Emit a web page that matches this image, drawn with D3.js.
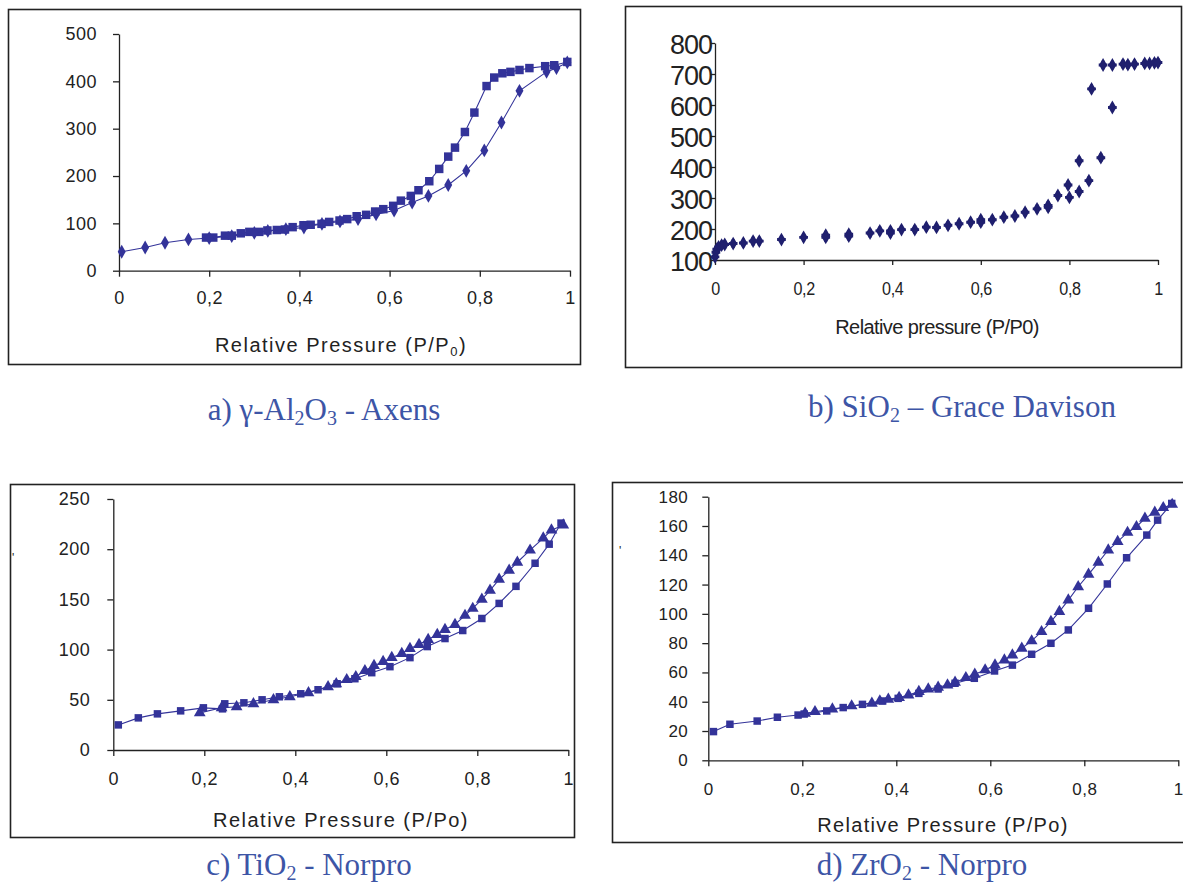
<!DOCTYPE html>
<html><head><meta charset="utf-8">
<script src="https://cdn.jsdelivr.net/npm/d3@7"></script>
<style>
html,body{margin:0;padding:0;background:#fff;}
svg{display:block;}
.tick text{font-family:"Liberation Sans",Arial,sans-serif;fill:#222;}
</style></head>
<body>
<svg id="c" width="1183" height="886"></svg>
<script>
// ---------- DATA ----------
const xTicks = [0, 0.2, 0.4, 0.6, 0.8, 1];
const xTickLabels = ["0", "0,2", "0,4", "0,6", "0,8", "1"];

// a) gamma-Al2O3 - Axens
const aYTicks = [0, 100, 200, 300, 400, 500];
const aAdsorption = [[0.006,40],[0.058,49],[0.102,59],[0.154,66],[0.2,69],[0.25,73],[0.3,80],[0.33,84],[0.37,88],[0.41,91],[0.45,99],[0.49,104],[0.53,109],[0.57,119],[0.61,127],[0.65,144],[0.686,158],[0.73,181],[0.77,211],[0.81,254],[0.848,313],[0.888,380],[0.948,420],[0.97,428],[0.994,440]];
const aDesorption = [[0.994,441],[0.965,434],[0.945,432],[0.91,428],[0.888,424],[0.868,420],[0.85,417],[0.832,408],[0.815,390],[0.788,334],[0.767,293],[0.745,260],[0.73,241],[0.71,215],[0.688,189],[0.664,170],[0.647,158],[0.625,148],[0.608,137],[0.586,130],[0.568,125],[0.548,118],[0.527,115],[0.506,109],[0.489,106],[0.466,103],[0.449,99],[0.425,97],[0.409,96],[0.385,92],[0.368,87],[0.35,86],[0.329,85],[0.311,82],[0.289,82],[0.27,79],[0.25,74],[0.235,74],[0.209,70],[0.193,70]];

// b) SiO2 - Grace Davison
const bYTicks = [100, 200, 300, 400, 500, 600, 700, 800];
const bPoints = [[0,110],[0.002,125],[0.004,135],[0.008,142],[0.015,148],[0.022,150],[0.041,153],[0.064,155],[0.086,161],[0.1,161],[0.15,166],[0.2,173],[0.25,180],[0.25,173],[0.302,183],[0.302,177],[0.35,187],[0.372,194],[0.396,194],[0.396,187],[0.421,198],[0.451,198],[0.477,206],[0.5,205],[0.526,212],[0.551,217],[0.577,222],[0.6,230],[0.6,222],[0.626,230],[0.652,238],[0.677,242],[0.7,254],[0.727,265],[0.752,276],[0.752,270],[0.774,308],[0.797,342],[0.8,302],[0.822,420],[0.822,321],[0.844,356],[0.85,652],[0.871,430],[0.876,729],[0.897,592],[0.897,729],[0.921,732],[0.932,730],[0.947,732],[0.97,734],[0.981,734],[0.992,736],[1.0,737]];

// c) TiO2 - Norpro
const cYTicks = [0, 50, 100, 150, 200, 250];
const cAdsorption = [[0.011,25],[0.055,32],[0.097,36],[0.148,39],[0.198,42],[0.24,41],[0.245,46],[0.287,47],[0.327,50],[0.365,53],[0.412,56],[0.45,60],[0.492,66],[0.531,71],[0.568,77],[0.608,83],[0.652,92],[0.69,103],[0.729,111],[0.768,119],[0.81,131],[0.848,146],[0.885,163],[0.927,186],[0.958,205],[0.984,226]];
const cDesorption = [[0.989,224],[0.963,219],[0.945,211],[0.916,199],[0.888,187],[0.87,179],[0.848,170],[0.828,159],[0.81,150],[0.79,141],[0.773,134],[0.751,125],[0.729,120],[0.712,115],[0.692,110],[0.672,105],[0.652,101],[0.634,96],[0.612,92],[0.593,88],[0.573,84],[0.553,79],[0.533,73],[0.513,70],[0.49,66],[0.472,63],[0.429,57],[0.388,53],[0.352,50],[0.308,46],[0.271,43],[0.238,42],[0.19,37]];

// d) ZrO2 - Norpro
const dYTicks = [0, 20, 40, 60, 80, 100, 120, 140, 160, 180];
const dAdsorption = [[0.011,19.6],[0.046,24.6],[0.104,26.8],[0.147,29.4],[0.191,30.9],[0.204,31.6],[0.252,33.7],[0.287,36],[0.328,38.2],[0.371,40.5],[0.404,42.3],[0.448,45.7],[0.489,48.7],[0.525,52.6],[0.566,56],[0.609,61],[0.647,65],[0.688,72.4],[0.729,79.9],[0.766,89],[0.809,103.8],[0.849,120.4],[0.89,138.3],[0.933,153.8],[0.956,164],[0.986,175.4]];
const dDesorption = [[0.987,174.7],[0.968,172.5],[0.95,169.3],[0.929,165.2],[0.911,159.5],[0.892,155.6],[0.871,149.3],[0.851,143.6],[0.83,135.2],[0.809,127],[0.787,118.5],[0.766,109.4],[0.747,101.5],[0.729,94.7],[0.709,87.8],[0.688,81.5],[0.667,76.5],[0.647,71.9],[0.63,68.5],[0.61,65],[0.589,61.7],[0.567,58.7],[0.548,56.4],[0.525,53.2],[0.509,51.4],[0.489,49.8],[0.468,48.7],[0.448,46.9],[0.426,44.6],[0.406,42.8],[0.383,41.6],[0.365,40.5],[0.348,38.9],[0.305,37.1],[0.264,35],[0.227,33.2],[0.206,32.1]];

// ---------- DRAWING ----------
const svg = d3.select("#c");
const BLUE = "#333399", NAVY = "#1f1f6e", CAP = "#3d55a6";
const SANS = "'Liberation Sans',Arial,sans-serif";
const NARROW = "'Liberation Sans Narrow','Liberation Sans',Arial,sans-serif";
const SERIF = "'Liberation Serif','Times New Roman',serif";
const xFmt = d => xTickLabels[xTicks.indexOf(d)];

function frame(x, y, w, h) {
  svg.append("rect").attr("x", x).attr("y", y).attr("width", w).attr("height", h)
    .attr("fill", "none").attr("stroke", "#222").attr("stroke-width", 1.6);
}

function axes(cfg) {
  const g = svg.append("g");
  const xa = d3.axisBottom(cfg.x).tickValues(xTicks).tickFormat(xFmt)
    .tickSizeInner(cfg.xTick).tickSizeOuter(0).tickPadding(cfg.xPad);
  const ya = d3.axisLeft(cfg.y).tickValues(cfg.yTicks).tickFormat(d => String(d))
    .tickSizeInner(cfg.yTick).tickSizeOuter(0).tickPadding(cfg.yPad);
  const gx = g.append("g").attr("transform", `translate(0,${cfg.y.range()[0]})`).call(xa);
  const gy = g.append("g").attr("transform", `translate(${cfg.x.range()[0]},0)`).call(ya);
  [gx, gy].forEach(s => {
    s.select(".domain").attr("stroke", "#222").attr("stroke-width", 1.3);
    s.selectAll(".tick line").attr("stroke", "#222").attr("stroke-width", 1.3);
  });
  gx.selectAll("text").attr("font-size", cfg.xFont).attr("font-family", cfg.xFamily || null)
    .attr("letter-spacing", cfg.xLs || 0);
  gy.selectAll("text").attr("font-size", cfg.yFont).attr("font-family", cfg.yFamily || null)
    .attr("letter-spacing", cfg.yLs || 0);
  return {gx, gy};
}

function series(x, y, pts, shape, size, color, withLine) {
  if (withLine) {
    svg.append("path").datum(pts)
      .attr("d", d3.line().x(d => x(d[0])).y(d => y(d[1])))
      .attr("fill", "none").attr("stroke", color).attr("stroke-width", 1.1);
  }
  svg.append("g").selectAll("path").data(pts).join("path")
    .attr("transform", d => `translate(${x(d[0])},${y(d[1])})`)
    .attr("d", d3.symbol().type(shape).size(size))
    .attr("fill", color);
}

function title(x, y, size, family, ls, main, sub, tail) {
  const t = svg.append("text").attr("x", x).attr("y", y).attr("text-anchor", "middle")
    .attr("font-family", family).attr("font-size", size).attr("fill", "#222")
    .attr("letter-spacing", ls);
  t.append("tspan").text(main);
  if (sub !== null) {
    t.append("tspan").attr("font-size", size * 0.65).attr("dy", 4).text(sub);
    t.append("tspan").attr("dy", -4).text(tail);
  }
  return t;
}

function caption(x, y, parts) {
  const t = svg.append("text").attr("x", x).attr("y", y).attr("text-anchor", "middle")
    .attr("font-family", SERIF).attr("font-size", 31).attr("fill", CAP);
  let down = false;
  parts.forEach(p => {
    const s = t.append("tspan").text(p.t);
    if (p.sub && !down) { s.attr("font-size", 20).attr("dy", 5); down = true; }
    else if (!p.sub && down) { s.attr("dy", -5); down = false; }
    else if (p.sub) s.attr("font-size", 20);
  });
}

// ---- panel a ----
frame(8.5, 9.5, 572, 355);
const ax = d3.scaleLinear().domain([0, 1]).range([119, 570]);
const ay = d3.scaleLinear().domain([0, 500]).range([270.7, 34]);
axes({x: ax, y: ay, yTicks: aYTicks, xTick: 6, xPad: 15, yTick: 6, yPad: 16, xFont: 18, yFont: 18, xLs: 0.5, yLs: 0.5});
series(ax, ay, aDesorption, d3.symbolSquare, 72, BLUE, true);
series(ax, ay, aAdsorption, d3.symbolDiamond, 55, BLUE, true);
title(341, 352, 20, SANS, 1.5, "Relative Pressure (P/P", "0", ")");
caption(324, 420, [{t: "a) γ-Al"}, {t: "2", sub: true}, {t: "O"}, {t: "3", sub: true}, {t: " - Axens"}]);

// ---- panel b ----
frame(625.5, 6.5, 556, 361);
const bx = d3.scaleLinear().domain([0, 1]).range([715, 1158]);
const by = d3.scaleLinear().domain([100, 800]).range([260, 43]);
const bAx = axes({x: bx, y: by, yTicks: bYTicks, xTick: 5, xPad: 17, yTick: 4, yPad: -1, xFont: 19, yFont: 27,
  xFamily: NARROW, yFamily: SERIF, xLs: -0.5, yLs: -1});
bAx.gx.selectAll("text").attr("transform", "scale(0.85,1)");
bAx.gy.selectAll("text").attr("dy", "0.4em");
series(bx, by, bPoints, d3.symbolDiamond, 55, NAVY, false);
series(bx, by, bPoints, d3.symbolCross, 42, NAVY, false);
title(937, 334, 20, NARROW, -0.6, "Relative pressure (P/P0)", null, null);
caption(962, 417, [{t: "b) SiO"}, {t: "2", sub: true}, {t: " – Grace Davison"}]);

// ---- panel c ----
frame(10.5, 484.5, 564, 353);
const cx = d3.scaleLinear().domain([0, 1]).range([113.3, 568.3]);
const cy = d3.scaleLinear().domain([0, 250]).range([750, 499]);
axes({x: cx, y: cy, yTicks: cYTicks, xTick: 6, xPad: 16, yTick: 6, yPad: 17, xFont: 18, yFont: 18, xLs: 0.5, yLs: 0.5});
series(cx, cy, cAdsorption, d3.symbolSquare, 56, BLUE, true);
series(cx, cy, cDesorption, d3.symbolTriangle, 60, BLUE, true);
title(341, 827, 20, SANS, 1.5, "Relative Pressure (P/Po)", null, null);
svg.append("text").attr("x", 12).attr("y", 562).attr("font-family", SANS).attr("font-size", 12).attr("fill", "#222").text("'");
caption(309, 875, [{t: "c) TiO"}, {t: "2", sub: true}, {t: " - Norpro"}]);

// ---- panel d ----
frame(612.5, 482.5, 572, 360);
const dx = d3.scaleLinear().domain([0, 1]).range([708.3, 1178.3]);
const dy = d3.scaleLinear().domain([0, 180]).range([760.3, 496.7]);
axes({x: dx, y: dy, yTicks: dYTicks, xTick: 6, xPad: 17, yTick: 6, yPad: 14, xFont: 17, yFont: 17, xLs: 0.5, yLs: 0.5});
series(dx, dy, dAdsorption, d3.symbolSquare, 56, BLUE, true);
series(dx, dy, dDesorption, d3.symbolTriangle, 60, BLUE, true);
title(943, 832, 20, SANS, 1.3, "Relative Pressure (P/Po)", null, null);
svg.append("text").attr("x", 619).attr("y", 555).attr("font-family", SANS).attr("font-size", 12).attr("fill", "#222").text("'");
caption(922, 875, [{t: "d) ZrO"}, {t: "2", sub: true}, {t: " - Norpro"}]);
</script>
</body></html>
